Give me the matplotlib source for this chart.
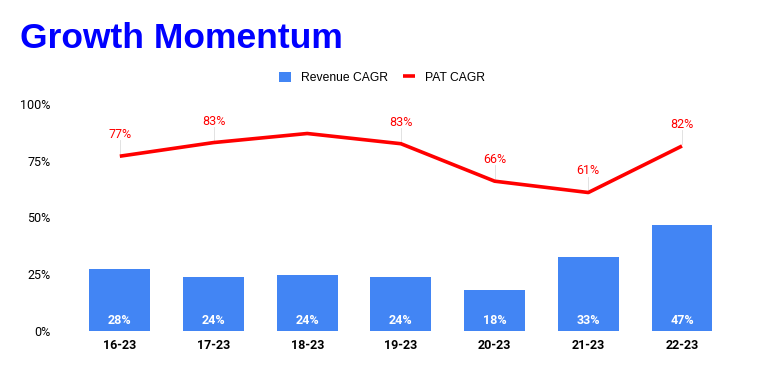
import numpy as np
import matplotlib
matplotlib.use("Agg")
import matplotlib.pyplot as plt

periods = ["16-23", "17-23", "18-23", "19-23", "20-23", "21-23", "22-23"]
revenue_cagr = [28, 24, 24, 24, 18, 33, 47]
revenue_bar = [27.5, 24, 24.5, 24, 18, 32.5, 46.5]
pat_cagr = [77, 83, 87, 82.5, 66, 61, 81.5]
pat_labels = ["77%", "83%", "", "83%", "66%", "61%", "82%"]
yticks = [0, 25, 50, 75, 100]

plt.rcParams['font.family'] = ['Roboto', 'DejaVu Sans']

fig = plt.figure(figsize=(7.64, 3.71), dpi=100)
ax = fig.add_axes([0.0955, 0.1078, 0.8585, 0.6119])

x = np.arange(len(periods))
bars = ax.bar(x, revenue_bar, width=0.65, color="#4285f4", label="Revenue CAGR", zorder=2)
line, = ax.plot(x, pat_cagr, color="#ff0000", lw=2.6, label="PAT CAGR", zorder=3,
                solid_capstyle="butt")

# bar labels inside, near base
for xi, v in zip(x, revenue_cagr):
    ax.text(xi, 4.5, f"{v}%", ha="center", va="center", color="white",
            fontsize=9, fontweight="bold", zorder=4)

# line labels with small leader lines
for xi, v, lab in zip(x, pat_cagr, pat_labels):
    if not lab:
        continue
    ax.plot([xi, xi], [v + 1, v + 7], color="#dddddd", lw=0.6, zorder=1)
    ax.text(xi, v + 9.5, lab, ha="center", va="center", color="#ff0000", fontsize=9)

ax.set_xlim(-0.5, len(periods) - 0.5)
ax.set_ylim(0, 100)
ax.set_yticks(yticks)
ax.set_yticklabels([f"{t}%" for t in yticks], fontsize=9)
ax.set_xticks(x)
ax.set_xticklabels(periods, fontsize=9, fontweight="bold")
ax.tick_params(axis="both", length=0, pad=6)
ax.tick_params(axis="y", pad=16)
for s in ax.spines.values():
    s.set_visible(False)

fig.text(0.026, 0.895, "Growth Momentum", color="#0000ff", fontsize=25.5,
         fontweight="bold", ha="left", va="center", family="Liberation Sans")

fig.legend([bars, line], ["Revenue CAGR", "PAT CAGR"], loc="center",
           bbox_to_anchor=(0.5, 0.79), ncol=2, frameon=False,
           prop={"family": "Liberation Sans", "size": 8.7},
           handlelength=1.0, handleheight=1.0, columnspacing=1.3,
           handletextpad=0.8)

fig.savefig("out.png", dpi=100)
